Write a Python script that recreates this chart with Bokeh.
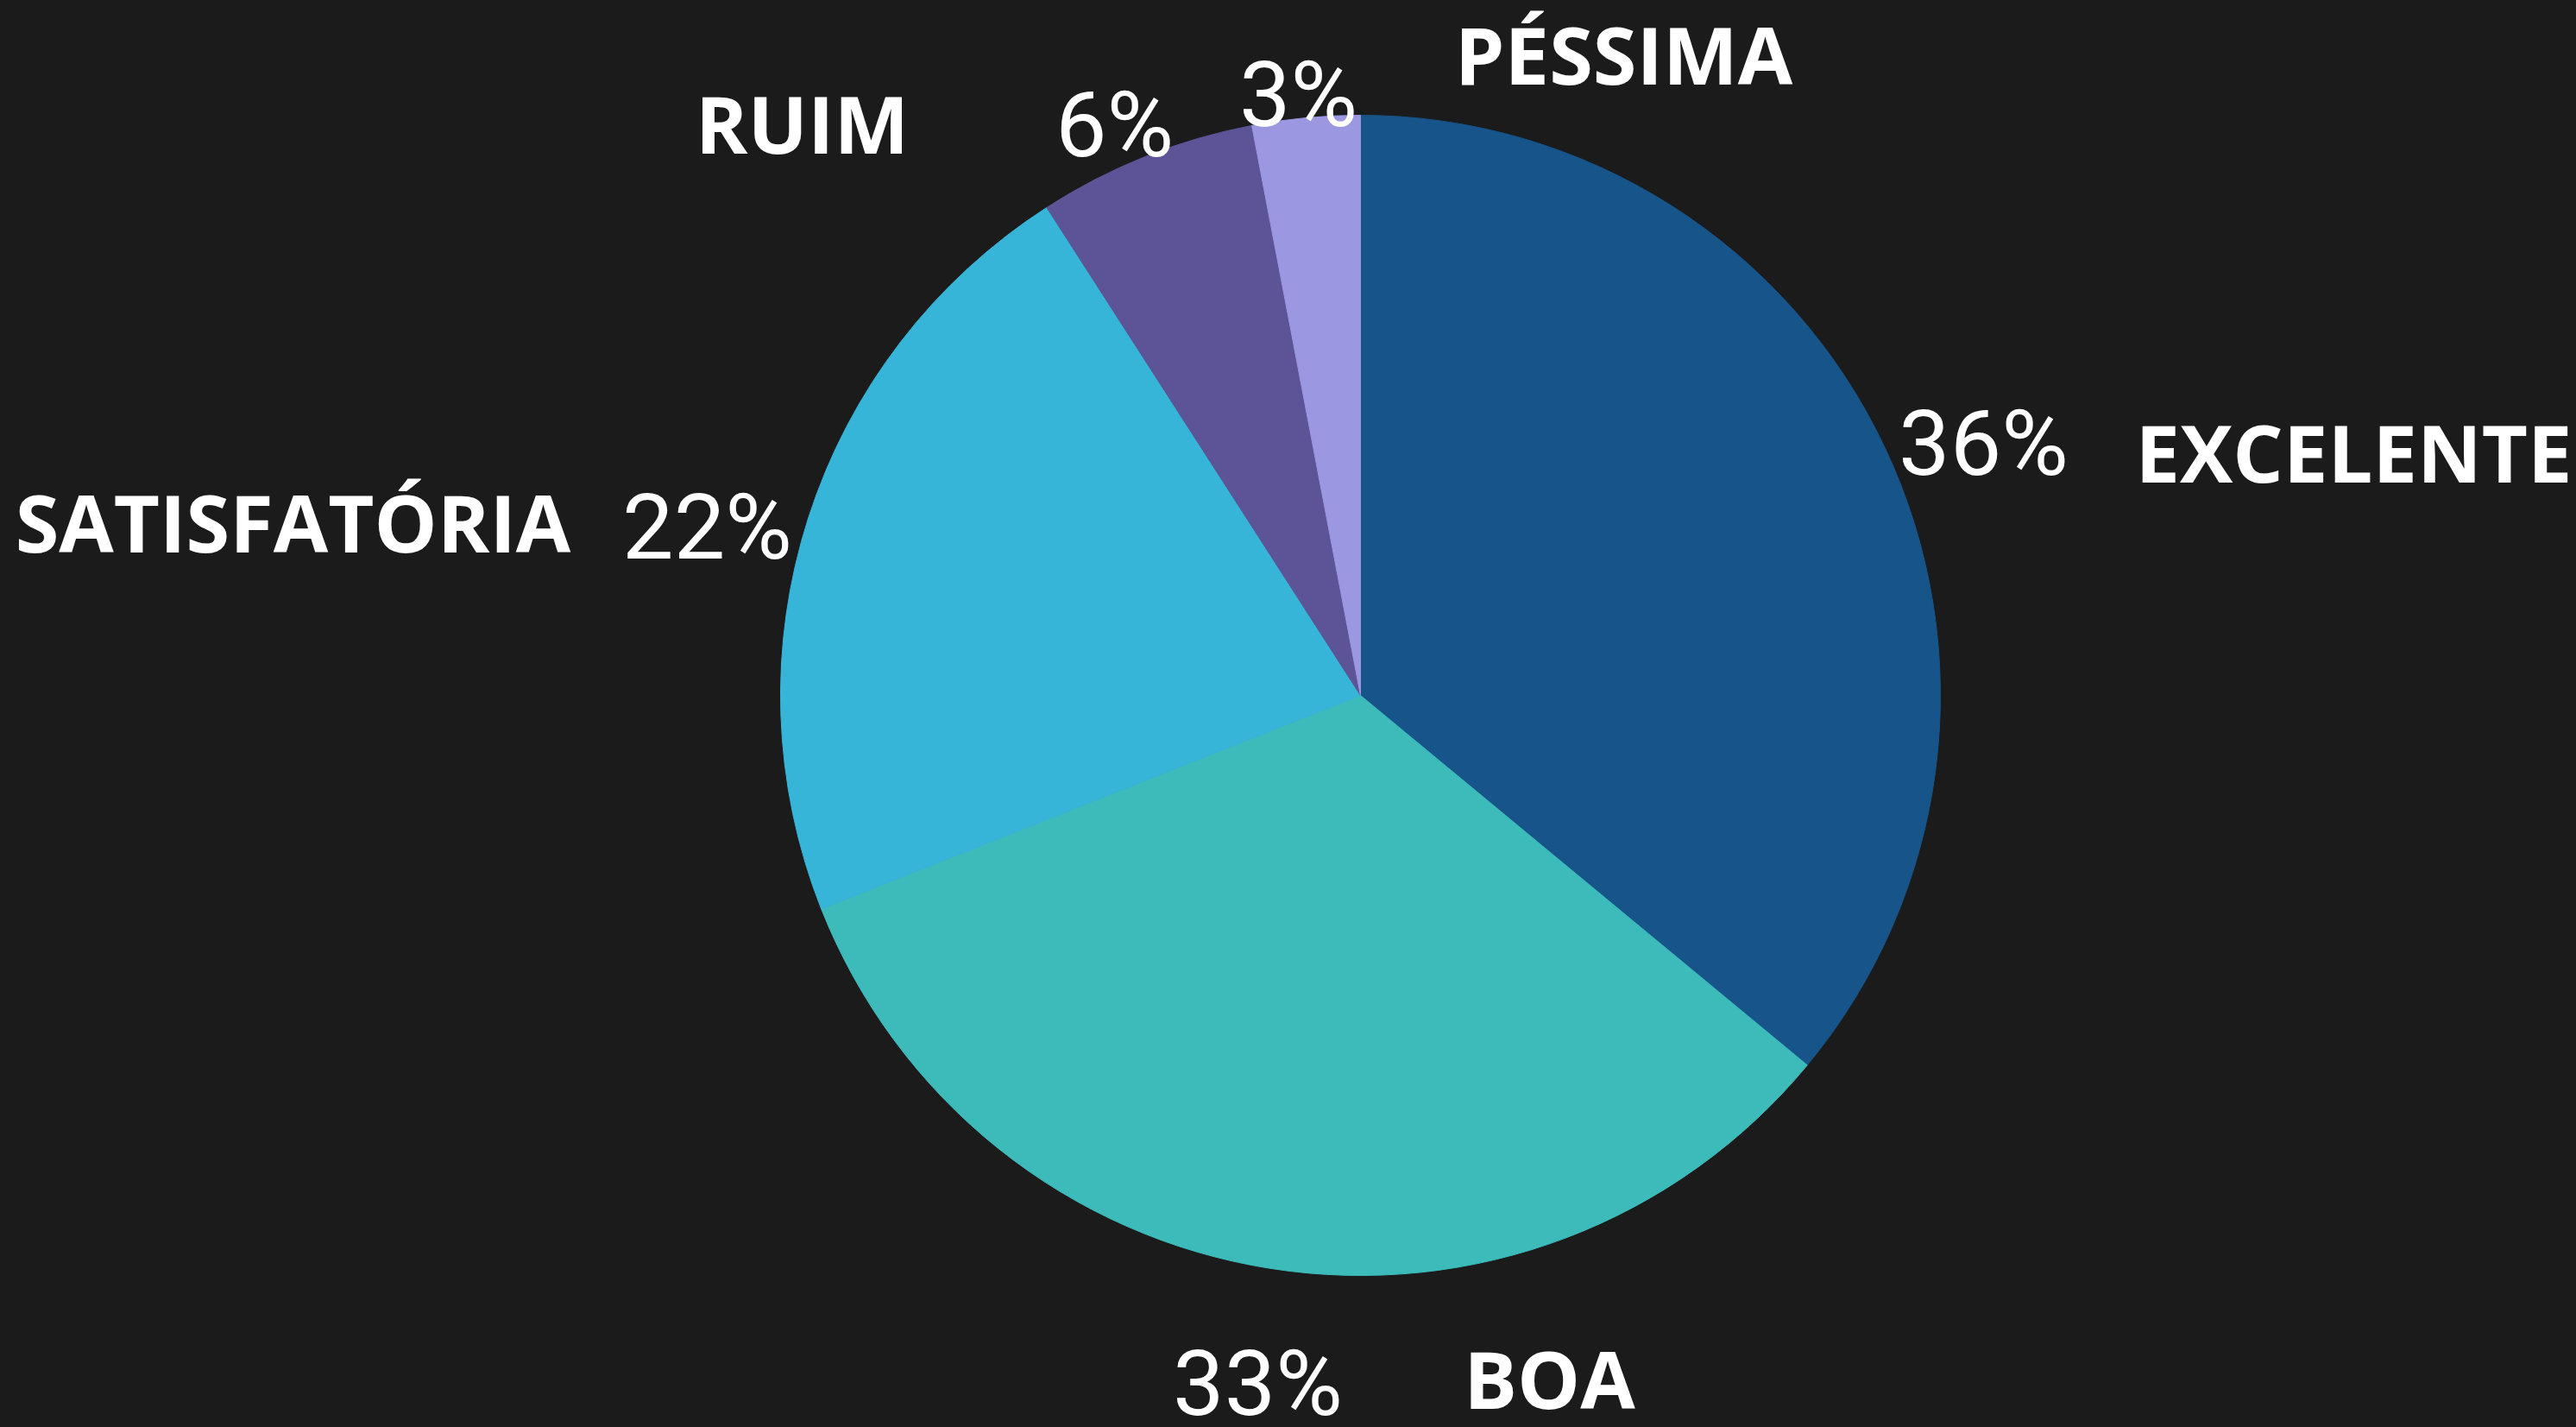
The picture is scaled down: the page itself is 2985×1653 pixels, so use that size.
import math
from bokeh.plotting import figure
from bokeh.models import Range1d, ColumnDataSource
from bokeh.core.properties import value
from bokeh.embed import file_html
from bokeh.resources import INLINE

# ---- data ----
categories = ["EXCELENTE", "BOA", "SATISFATÓRIA", "RUIM", "PÉSSIMA"]
values = [36.0, 33.0, 21.9, 6.1, 3.0]
pct_labels = ["36%", "33%", "22%", "6%", "3%"]
colors = ["#16548a", "#3dbbbb", "#37b5d8", "#5d5498", "#9b97e0"]

# ---- layout (page pixel positions) ----
W, H = 2985, 1653
BG = "#1b1b1b"
cx, cy, R = 1576, 805, 672
# label anchor positions (center x, text y) in page px
name_pos = [(2727, 523), (1795, 1596), (339, 604), (929, 142), (1881, 62)]
pct_pos = [(2298, 513), (1457, 1602), (819, 610), (1291, 144), (1504, 109)]


def fx(px):
    return px


def fy(py):
    return H - py


p = figure(width=W, height=H, output_backend="svg", toolbar_location=None,
           x_axis_type=None, y_axis_type=None,
           x_range=Range1d(0, W), y_range=Range1d(0, H),
           background_fill_color=BG, border_fill_color=BG,
           min_border=0, outline_line_color=None)
p.grid.visible = False

total = sum(values)
starts, ends = [], []
cum = 0.0
for v in values:
    starts.append(math.pi / 2 - cum / total * 2 * math.pi)
    cum += v
    ends.append(math.pi / 2 - cum / total * 2 * math.pi)

src = ColumnDataSource(dict(start=starts, end=ends, color=colors))
p.wedge(x=fx(cx), y=fy(cy), radius=R, start_angle="start", end_angle="end",
        direction="clock", fill_color="color", line_color="color",
        line_width=1, source=src)

nsrc = ColumnDataSource(dict(x=[fx(a) for a, b in name_pos],
                             y=[fy(b) for a, b in name_pos], t=categories))
p.text(x="x", y="y", text="t", source=nsrc, text_color="white",
       text_font=value("Open Sans"), text_font_style="bold",
       text_font_size="92px", text_align="center", text_baseline="alphabetic")

psrc = ColumnDataSource(dict(x=[fx(a) for a, b in pct_pos],
                             y=[fy(b) for a, b in pct_pos], t=pct_labels))
p.text(x="x", y="y", text="t", source=psrc, text_color="white",
       text_font=value("Roboto"),
       text_font_size="106px", text_align="center", text_baseline="alphabetic")

html = file_html(p, INLINE)
html = html.replace("<head>", "<head><style>html,body{background:%s;margin:0;padding:0;}</style>" % BG, 1)
open("out.html", "w").write(html)
